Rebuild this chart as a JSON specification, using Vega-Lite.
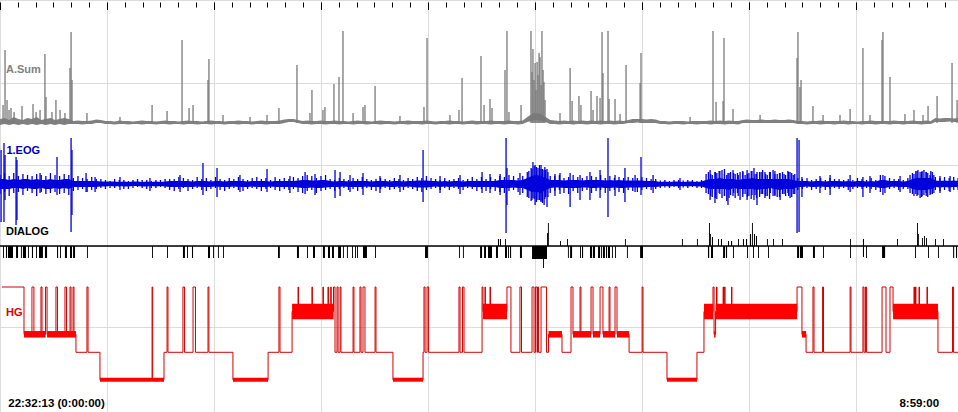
{
"$schema":"https://vega.github.io/schema/vega-lite/v6.json",
"width":958,"height":412,"padding":0,"autosize":{"type":"none"},
"background":"#ffffff",
"config":{"view":{"stroke":null},"axis":{"gridColor":"#dcdcdc","gridWidth":1},"text":{"font":"Liberation Sans","fontWeight":"bold","fontSize":11}},
"datasets":{
"band":[
{"t":0,"al":-2,"ah":4,"el":-10,"eh":9,"cl":-5,"ch":5},{"t":3,"al":-1,"ah":5,"el":-8,"eh":11,"cl":-5,"ch":5},{"t":6,"al":-2,"ah":3,"el":-12,"eh":8,"cl":-5,"ch":4},{"t":9,"al":-1,"ah":6,"el":-9,"eh":11,"cl":-4,"ch":5},{"t":12,"al":-2,"ah":4,"el":-8,"eh":8,"cl":-4,"ch":4},{"t":15,"al":-1,"ah":3,"el":-11,"eh":10,"cl":-5,"ch":5},{"t":18,"al":-2,"ah":5,"el":-7,"eh":9,"cl":-4,"ch":5},{"t":21,"al":-1,"ah":4,"el":-9,"eh":8,"cl":-5,"ch":4},{"t":24,"al":-2,"ah":6,"el":-12,"eh":10,"cl":-5,"ch":5},{"t":27,"al":-1,"ah":3,"el":-8,"eh":9,"cl":-4,"ch":4},{"t":30,"al":-2,"ah":4,"el":-10,"eh":8,"cl":-5,"ch":4},{"t":33,"al":-1,"ah":5,"el":-9,"eh":11,"cl":-5,"ch":5},{"t":36,"al":-2,"ah":3,"el":-8,"eh":9,"cl":-4,"ch":4},{"t":39,"al":-1,"ah":4,"el":-10,"eh":8,"cl":-5,"ch":4},{"t":42,"al":-2,"ah":5,"el":-9,"eh":10,"cl":-4,"ch":5},{"t":45,"al":-1,"ah":4,"el":-11,"eh":9,"cl":-5,"ch":5},
{"t":48,"al":-1,"ah":2,"el":-7,"eh":6,"cl":-3,"ch":3},{"t":51,"al":-1,"ah":2.5,"el":-6,"eh":8,"cl":-3,"ch":3},{"t":54,"al":-1.5,"ah":2,"el":-5,"eh":6,"cl":-3,"ch":3},{"t":57,"al":-1,"ah":2,"el":-8,"eh":5,"cl":-3,"ch":3},{"t":60,"al":-1,"ah":2.5,"el":-6,"eh":7,"cl":-3,"ch":3},{"t":63,"al":0,"ah":3.5,"el":-5,"eh":5,"cl":-3,"ch":3},{"t":66,"al":0,"ah":3,"el":-4,"eh":5,"cl":-2.5,"ch":2.5},{"t":69,"al":-1,"ah":2,"el":-5,"eh":4,"cl":-2.5,"ch":2.5},{"t":72,"al":-1,"ah":2,"el":-4,"eh":3,"cl":-2,"ch":2.5},{"t":75,"al":-1.5,"ah":1.5,"el":-4,"eh":5,"cl":-2.5,"ch":2.5},{"t":78,"al":-1,"ah":2.5,"el":-3,"eh":4,"cl":-2,"ch":2},{"t":81,"al":-1,"ah":2,"el":-5,"eh":4,"cl":-2.5,"ch":2.5},{"t":84,"al":-1.5,"ah":2,"el":-5,"eh":3,"cl":-2.5,"ch":2},{"t":87,"al":-1,"ah":1.5,"el":-4,"eh":4,"cl":-2,"ch":2.5},{"t":90,"al":-1,"ah":2,"el":-3,"eh":5,"cl":-2,"ch":2.5},{"t":93,"al":-1.5,"ah":2.5,"el":-4,"eh":4,"cl":-2.5,"ch":2},{"t":96,"al":-1,"ah":2,"el":-5,"eh":4,"cl":-2.5,"ch":2.5},{"t":99,"al":-1,"ah":2,"el":-4,"eh":3,"cl":-2,"ch":2},{"t":102,"al":-1.5,"ah":1.5,"el":-4,"eh":4,"cl":-2.5,"ch":2.5},{"t":105,"al":-1,"ah":2,"el":-3,"eh":4,"cl":-2,"ch":2},{"t":108,"al":-1,"ah":2.5,"el":-4,"eh":5,"cl":-2.5,"ch":2.5},
{"t":111,"al":-1.5,"ah":2,"el":-6,"eh":5,"cl":-3,"ch":3},{"t":114,"al":-1,"ah":2,"el":-7,"eh":5,"cl":-3,"ch":3},{"t":117,"al":-1,"ah":1.5,"el":-5,"eh":7,"cl":-3,"ch":3},{"t":120,"al":-1.5,"ah":2,"el":-4,"eh":6,"cl":-3,"ch":3},{"t":123,"al":-1,"ah":2.5,"el":-7,"eh":5,"cl":-3,"ch":3},{"t":126,"al":-1,"ah":2,"el":-5,"eh":4,"cl":-3,"ch":2.5},{"t":129,"al":-1.5,"ah":2,"el":-4,"eh":7,"cl":-2.5,"ch":3},{"t":132,"al":-1,"ah":1.5,"el":-6,"eh":5,"cl":-3,"ch":3},{"t":135,"al":-1,"ah":2,"el":-7,"eh":6,"cl":-3,"ch":3},{"t":138,"al":-1.5,"ah":2.5,"el":-5,"eh":4,"cl":-3,"ch":2.5},{"t":141,"al":-1,"ah":2,"el":-4,"eh":7,"cl":-2.5,"ch":3},{"t":144,"al":-1,"ah":2,"el":-6,"eh":5,"cl":-3,"ch":3},{"t":147,"al":-1.5,"ah":1.5,"el":-7,"eh":4,"cl":-3,"ch":2.5},{"t":150,"al":-1,"ah":2,"el":-5,"eh":6,"cl":-3,"ch":3},{"t":153,"al":-1,"ah":2,"el":-4,"eh":5,"cl":-2.5,"ch":3},{"t":156,"al":-1.5,"ah":2.5,"el":-6,"eh":7,"cl":-3,"ch":3},{"t":159,"al":-1,"ah":2,"el":-7,"eh":5,"cl":-3,"ch":3},{"t":162,"al":-1,"ah":2,"el":-5,"eh":4,"cl":-3,"ch":2.5},{"t":165,"al":-1.5,"ah":1.5,"el":-4,"eh":6,"cl":-2.5,"ch":3},{"t":168,"al":-1,"ah":2,"el":-5,"eh":7,"cl":-3,"ch":3},{"t":171,"al":-1,"ah":2.5,"el":-7,"eh":5,"cl":-3,"ch":3},{"t":174,"al":-1.5,"ah":2,"el":-5,"eh":6,"cl":-3,"ch":3},{"t":177,"al":-1,"ah":2,"el":-4,"eh":4,"cl":-2.5,"ch":2.5},{"t":180,"al":-1,"ah":2,"el":-6,"eh":7,"cl":-3,"ch":3},{"t":183,"al":-1,"ah":2.5,"el":-7,"eh":5,"cl":-3,"ch":3},
{"t":186,"al":0,"ah":3.5,"el":-5,"eh":6,"cl":-3,"ch":3},{"t":189,"al":1,"ah":4,"el":-6,"eh":5,"cl":-3,"ch":3},{"t":192,"al":1,"ah":4,"el":-5,"eh":7,"cl":-3,"ch":3},{"t":195,"al":0,"ah":3,"el":-8,"eh":6,"cl":-3.5,"ch":3.5},{"t":198,"al":-1,"ah":2,"el":-9,"eh":8,"cl":-4,"ch":4},{"t":201,"al":-1,"ah":2.5,"el":-7,"eh":9,"cl":-4,"ch":4},{"t":204,"al":-1.5,"ah":2,"el":-6,"eh":8,"cl":-3.5,"ch":3.5},{"t":207,"al":-1,"ah":2,"el":-9,"eh":6,"cl":-4,"ch":3.5},{"t":210,"al":-1,"ah":2.5,"el":-7,"eh":8,"cl":-4,"ch":4},{"t":213,"al":-1.5,"ah":2,"el":-6,"eh":9,"cl":-3.5,"ch":4},{"t":216,"al":-1,"ah":2,"el":-5,"eh":5,"cl":-3,"ch":3},{"t":219,"al":-1,"ah":2.5,"el":-7,"eh":4,"cl":-3,"ch":2.5},{"t":222,"al":-1.5,"ah":2,"el":-5,"eh":6,"cl":-3,"ch":3},{"t":225,"al":-1,"ah":2,"el":-4,"eh":5,"cl":-2.5,"ch":3},{"t":228,"al":-1,"ah":1.5,"el":-6,"eh":4,"cl":-3,"ch":2.5},{"t":231,"al":-1.5,"ah":2,"el":-5,"eh":6,"cl":-3,"ch":3},{"t":234,"al":-1,"ah":2.5,"el":-7,"eh":5,"cl":-3,"ch":3},{"t":237,"al":-1,"ah":2,"el":-5,"eh":7,"cl":-3,"ch":3},{"t":240,"al":-1.5,"ah":2,"el":-4,"eh":5,"cl":-2.5,"ch":3},{"t":243,"al":-1,"ah":1.5,"el":-6,"eh":4,"cl":-3,"ch":2.5},{"t":246,"al":-1,"ah":2,"el":-7,"eh":5,"cl":-3,"ch":3},{"t":249,"al":-1.5,"ah":2.5,"el":-5,"eh":6,"cl":-3,"ch":3},{"t":252,"al":-1,"ah":2,"el":-4,"eh":5,"cl":-2.5,"ch":3},{"t":255,"al":-1,"ah":2,"el":-6,"eh":4,"cl":-3,"ch":2.5},{"t":258,"al":-1.5,"ah":1.5,"el":-5,"eh":6,"cl":-3,"ch":3},{"t":261,"al":-1,"ah":2,"el":-4,"eh":5,"cl":-2.5,"ch":3},{"t":264,"al":-1,"ah":2,"el":-6,"eh":4,"cl":-3,"ch":2.5},{"t":267,"al":-1.5,"ah":2.5,"el":-4,"eh":6,"cl":-2.5,"ch":3},{"t":270,"al":-1,"ah":2,"el":-5,"eh":5,"cl":-3,"ch":3},{"t":273,"al":-1,"ah":2,"el":-7,"eh":7,"cl":-3.5,"ch":3.5},{"t":276,"al":-1.5,"ah":2,"el":-8,"eh":6,"cl":-3.5,"ch":3.5},{"t":279,"al":-1,"ah":2.5,"el":-6,"eh":8,"cl":-3.5,"ch":3.5},
{"t":282,"al":-1,"ah":2,"el":-5,"eh":6,"cl":-3,"ch":3},{"t":285,"al":-1.5,"ah":1.5,"el":-4,"eh":5,"cl":-2.5,"ch":3},{"t":288,"al":-1,"ah":2,"el":-6,"eh":4,"cl":-3,"ch":2.5},{"t":291,"al":-1,"ah":2,"el":-4,"eh":6,"cl":-2.5,"ch":3},{"t":294,"al":-1.5,"ah":2.5,"el":-6,"eh":4,"cl":-3,"ch":2.5},{"t":297,"al":-1,"ah":2,"el":-4,"eh":5,"cl":-2.5,"ch":3},{"t":300,"al":-1,"ah":2,"el":-5,"eh":6,"cl":-3,"ch":3},{"t":303,"al":-1.5,"ah":1.5,"el":-6,"eh":4,"cl":-3,"ch":2.5},{"t":306,"al":-1,"ah":2,"el":-4,"eh":5,"cl":-2.5,"ch":3},{"t":309,"al":-1,"ah":2.5,"el":-5,"eh":7,"cl":-3,"ch":3},{"t":312,"al":-1.5,"ah":2,"el":-7,"eh":5,"cl":-3,"ch":3},{"t":315,"al":-1,"ah":2,"el":-5,"eh":7,"cl":-3,"ch":3},{"t":318,"al":-1,"ah":2,"el":-7,"eh":5,"cl":-3,"ch":3},{"t":321,"al":-1.5,"ah":2.5,"el":-5,"eh":7,"cl":-3,"ch":3},{"t":324,"al":-1,"ah":2,"el":-7,"eh":5,"cl":-3,"ch":3},{"t":327,"al":-1,"ah":2,"el":-8,"eh":8,"cl":-4,"ch":4},{"t":330,"al":-1.5,"ah":2,"el":-9,"eh":7,"cl":-4,"ch":4},{"t":333,"al":-1,"ah":2.5,"el":-7,"eh":9,"cl":-4,"ch":4},{"t":336,"al":-1,"ah":2,"el":-6,"eh":8,"cl":-3.5,"ch":4},{"t":339,"al":-1.5,"ah":2,"el":-8,"eh":6,"cl":-4,"ch":3.5},{"t":342,"al":-1,"ah":2.5,"el":-9,"eh":8,"cl":-4,"ch":4},
{"t":345,"al":1,"ah":6,"el":-13,"eh":12,"cl":-6,"ch":6},{"t":348,"al":2,"ah":9,"el":-16,"eh":15,"cl":-8,"ch":8},{"t":351,"al":3,"ah":10,"el":-15,"eh":17,"cl":-8,"ch":9},{"t":354,"al":2,"ah":9,"el":-17,"eh":15,"cl":-9,"ch":8},{"t":357,"al":1,"ah":6,"el":-13,"eh":14,"cl":-6,"ch":6},
{"t":360,"al":-1,"ah":3,"el":-9,"eh":8,"cl":-4,"ch":4},{"t":363,"al":-1,"ah":2.5,"el":-7,"eh":8,"cl":-3.5,"ch":4},{"t":366,"al":-1.5,"ah":2,"el":-6,"eh":9,"cl":-3.5,"ch":4},{"t":369,"al":-1,"ah":2.5,"el":-9,"eh":6,"cl":-4,"ch":3.5},{"t":372,"al":-1,"ah":2,"el":-10,"eh":7,"cl":-4,"ch":4},{"t":375,"al":-1.5,"ah":2.5,"el":-7,"eh":9,"cl":-4,"ch":4},{"t":378,"al":-1,"ah":2,"el":-9,"eh":7,"cl":-4,"ch":4},{"t":381,"al":-1,"ah":2.5,"el":-7,"eh":6,"cl":-3.5,"ch":3.5},{"t":384,"al":-1.5,"ah":2,"el":-6,"eh":8,"cl":-3.5,"ch":4},{"t":387,"al":-1,"ah":2.5,"el":-9,"eh":8,"cl":-4,"ch":4},{"t":390,"al":-1,"ah":2,"el":-7,"eh":7,"cl":-4,"ch":4},{"t":393,"al":-1.5,"ah":2.5,"el":-6,"eh":9,"cl":-3.5,"ch":4},{"t":396,"al":-1,"ah":2,"el":-9,"eh":6,"cl":-4,"ch":3.5},{"t":399,"al":-1,"ah":2.5,"el":-7,"eh":8,"cl":-4,"ch":4},{"t":402,"al":-1.5,"ah":2,"el":-6,"eh":6,"cl":-3.5,"ch":3.5},{"t":405,"al":-1,"ah":2.5,"el":-8,"eh":7,"cl":-4,"ch":4},{"t":408,"al":-1,"ah":2,"el":-9,"eh":6,"cl":-4,"ch":3.5},
{"t":411,"al":0,"ah":3,"el":-6,"eh":7,"cl":-3.5,"ch":3.5},{"t":414,"al":0,"ah":4,"el":-7,"eh":6,"cl":-3.5,"ch":3.5},{"t":417,"al":0.5,"ah":4,"el":-8,"eh":6,"cl":-3.5,"ch":3.5},{"t":420,"al":0,"ah":4,"el":-6,"eh":7,"cl":-3.5,"ch":3.5},{"t":423,"al":0,"ah":3.5,"el":-5,"eh":6,"cl":-3,"ch":3},{"t":426,"al":0,"ah":4,"el":-6,"eh":5,"cl":-3,"ch":3},{"t":429,"al":0,"ah":3.5,"el":-5,"eh":5,"cl":-3,"ch":3},
{"t":432,"al":-1,"ah":2,"el":-4,"eh":3.5,"cl":-2.5,"ch":2},{"t":435,"al":-1,"ah":2,"el":-3.5,"eh":4,"cl":-2,"ch":2.5},{"t":438,"al":-1.5,"ah":1.5,"el":-4,"eh":3,"cl":-2.5,"ch":2},{"t":441,"al":-1,"ah":2,"el":-3,"eh":4,"cl":-2,"ch":2.5},{"t":444,"al":-1,"ah":2,"el":-4,"eh":4,"cl":-2.5,"ch":2.5},{"t":447,"al":-1.5,"ah":2,"el":-3.5,"eh":3.5,"cl":-2,"ch":2},{"t":450,"al":-1,"ah":1.5,"el":-4,"eh":4,"cl":-2.5,"ch":2.5},{"t":453,"al":-1,"ah":2,"el":-3,"eh":4,"cl":-2,"ch":2.5},{"t":456,"al":-1.5,"ah":2,"el":-4,"eh":3,"cl":-2.5,"ch":2},{"t":459,"al":-1,"ah":2,"el":-4,"eh":4,"cl":-2.5,"ch":2.5},
{"t":462,"al":-1,"ah":2,"el":-9,"eh":10,"cl":-4,"ch":4},{"t":465,"al":-1.5,"ah":2.5,"el":-12,"eh":10,"cl":-5,"ch":5},{"t":468,"al":-1,"ah":2,"el":-14,"eh":12,"cl":-5,"ch":5},{"t":471,"al":-1,"ah":2.5,"el":-10,"eh":13,"cl":-5,"ch":6},{"t":474,"al":-1.5,"ah":2,"el":-12,"eh":10,"cl":-5,"ch":5},{"t":477,"al":-1,"ah":2.5,"el":-14,"eh":11,"cl":-6,"ch":5},{"t":480,"al":-1,"ah":2,"el":-9,"eh":11,"cl":-4,"ch":5},{"t":483,"al":-1.5,"ah":2,"el":-12,"eh":9,"cl":-5,"ch":4},{"t":486,"al":0,"ah":3,"el":-10,"eh":12,"cl":-5,"ch":5},{"t":489,"al":0,"ah":3.5,"el":-13,"eh":10,"cl":-5,"ch":5},{"t":492,"al":0,"ah":3,"el":-11,"eh":13,"cl":-5,"ch":6},{"t":495,"al":0,"ah":3,"el":-14,"eh":10,"cl":-6,"ch":5},{"t":498,"al":0,"ah":3.5,"el":-10,"eh":12,"cl":-5,"ch":5},{"t":501,"al":0,"ah":3,"el":-12,"eh":10,"cl":-5,"ch":5},{"t":504,"al":0,"ah":3,"el":-9,"eh":12,"cl":-4,"ch":5},{"t":507,"al":0,"ah":3.5,"el":-12,"eh":10,"cl":-5,"ch":5},{"t":510,"al":0,"ah":3,"el":-13,"eh":11,"cl":-6,"ch":5},{"t":513,"al":0,"ah":3,"el":-10,"eh":10,"cl":-5,"ch":5},{"t":516,"al":0,"ah":3.5,"el":-12,"eh":12,"cl":-5,"ch":5},{"t":519,"al":0,"ah":3,"el":-10,"eh":9,"cl":-5,"ch":4},
{"t":522,"al":-1,"ah":2,"el":-6,"eh":6,"cl":-3,"ch":3},{"t":525,"al":-1,"ah":2,"el":-5,"eh":5,"cl":-3,"ch":3},{"t":528,"al":-1.5,"ah":1.5,"el":-4,"eh":6,"cl":-2.5,"ch":3},{"t":531,"al":-1,"ah":2,"el":-6,"eh":4,"cl":-3,"ch":2.5},{"t":534,"al":-1,"ah":2,"el":-5,"eh":5,"cl":-3,"ch":3},{"t":537,"al":-1.5,"ah":2.5,"el":-4,"eh":6,"cl":-2.5,"ch":3},{"t":540,"al":-1,"ah":2,"el":-6,"eh":4,"cl":-3,"ch":2.5},{"t":543,"al":-1,"ah":2,"el":-5,"eh":6,"cl":-3,"ch":3},{"t":546,"al":-1.5,"ah":2,"el":-4,"eh":5,"cl":-2.5,"ch":3},{"t":549,"al":-1,"ah":2,"el":-5,"eh":5,"cl":-3,"ch":3},{"t":552,"al":-1,"ah":2.5,"el":-4,"eh":4,"cl":-2.5,"ch":2.5},{"t":555,"al":-1.5,"ah":2,"el":-6,"eh":5,"cl":-3,"ch":3},{"t":558,"al":-1,"ah":2,"el":-5,"eh":4,"cl":-3,"ch":2.5},{"t":561,"al":-1,"ah":1.5,"el":-4,"eh":6,"cl":-2.5,"ch":3},{"t":564,"al":-1.5,"ah":2,"el":-5,"eh":5,"cl":-3,"ch":3},{"t":567,"al":-1,"ah":2,"el":-4,"eh":4,"cl":-2.5,"ch":2.5},{"t":570,"al":-1,"ah":2.5,"el":-5,"eh":6,"cl":-3,"ch":3},{"t":573,"al":-1.5,"ah":2,"el":-6,"eh":4,"cl":-3,"ch":2.5},{"t":576,"al":-1,"ah":2,"el":-8,"eh":9,"cl":-4,"ch":4},{"t":579,"al":-1,"ah":2,"el":-9,"eh":8,"cl":-4,"ch":4},{"t":582,"al":-1.5,"ah":2,"el":-5,"eh":6,"cl":-3,"ch":3},{"t":585,"al":-1,"ah":2.5,"el":-4,"eh":5,"cl":-2.5,"ch":3},{"t":588,"al":-1,"ah":2,"el":-6,"eh":5,"cl":-3,"ch":3},{"t":591,"al":-1.5,"ah":2,"el":-5,"eh":4,"cl":-3,"ch":2.5},{"t":594,"al":-1,"ah":2,"el":-5,"eh":6,"cl":-3,"ch":3},{"t":597,"al":-1,"ah":2.5,"el":-10,"eh":11,"cl":-5,"ch":5},{"t":600,"al":-1,"ah":2,"el":-12,"eh":13,"cl":-6,"ch":6},{"t":603,"al":-1.5,"ah":2,"el":-13,"eh":12,"cl":-6,"ch":6},{"t":606,"al":-1,"ah":2.5,"el":-12,"eh":12,"cl":-6,"ch":6},{"t":609,"al":-1,"ah":2,"el":-10,"eh":13,"cl":-5,"ch":6},
{"t":612,"al":1,"ah":5,"el":-6,"eh":7,"cl":-3,"ch":3.5},{"t":615,"al":1,"ah":4.5,"el":-7,"eh":6,"cl":-3.5,"ch":3},{"t":618,"al":1,"ah":5,"el":-6,"eh":7,"cl":-3,"ch":3.5},{"t":621,"al":1.5,"ah":5,"el":-7,"eh":6,"cl":-3.5,"ch":3},{"t":624,"al":1,"ah":4.5,"el":-6,"eh":7,"cl":-3,"ch":3.5},{"t":626.8,"al":1,"ah":5,"el":-6,"eh":6,"cl":-3,"ch":3}
],
"asp":[
{"t":2.0,"v":18},{"t":3.3,"v":73},{"t":4.6,"v":23},{"t":5.9,"v":13},{"t":7.2,"v":15},{"t":9.2,"v":11},{"t":14.4,"v":17},{"t":21.6,"v":19},{"t":23.6,"v":11},{"t":26.2,"v":13},{"t":29.4,"v":69},{"t":30.1,"v":26},{"t":34.0,"v":11},{"t":36.6,"v":23},{"t":39.3,"v":13},{"t":42.5,"v":10},{"t":45.8,"v":55},{"t":46.5,"v":91},{"t":47.1,"v":43},{"t":56.9,"v":10},{"t":78.5,"v":6},{"t":99.5,"v":18},{"t":109.3,"v":12},{"t":119.1,"v":83},{"t":123.7,"v":15},{"t":126.3,"v":18},{"t":136.1,"v":43},{"t":136.7,"v":64},{"t":145.9,"v":8},{"t":163.6,"v":6},{"t":174.7,"v":8},{"t":182.5,"v":15},{"t":194.3,"v":58},{"t":202.8,"v":10},{"t":204.1,"v":33},{"t":211.3,"v":13},{"t":212.6,"v":16},{"t":218.5,"v":39},{"t":221.8,"v":46},{"t":224.4,"v":92},{"t":231.0,"v":10},{"t":237.5,"v":16},{"t":238.8,"v":18},{"t":245.4,"v":37},{"t":261.7,"v":7},{"t":277.4,"v":16},{"t":279.4,"v":85},{"t":294.4,"v":8},{"t":300.3,"v":13},{"t":302.3,"v":45},{"t":314.7,"v":67},{"t":316.7,"v":18},{"t":320.6,"v":24},{"t":321.9,"v":15},{"t":330.4,"v":53},{"t":331.7,"v":92},{"t":333.0,"v":11},{"t":340.9,"v":18},{"t":347.4,"v":92},{"t":348.1,"v":51},{"t":348.7,"v":74},{"t":349.4,"v":43},{"t":350.1,"v":60},{"t":350.7,"v":33},{"t":351.4,"v":61},{"t":352.0,"v":48},{"t":352.7,"v":70},{"t":353.3,"v":66},{"t":354.0,"v":38},{"t":354.6,"v":92},{"t":355.3,"v":53},{"t":355.9,"v":41},{"t":356.6,"v":23},{"t":366.4,"v":10},{"t":373.0,"v":55},{"t":374.3,"v":22},{"t":378.8,"v":27},{"t":380.1,"v":18},{"t":386.7,"v":32},{"t":388.0,"v":13},{"t":390.6,"v":27},{"t":392.6,"v":25},{"t":393.9,"v":91},{"t":394.5,"v":50},{"t":397.8,"v":92},{"t":398.5,"v":24},{"t":402.4,"v":24},{"t":405.7,"v":9},{"t":409.6,"v":58},{"t":418.8,"v":40},{"t":419.4,"v":70},{"t":451.5,"v":6},{"t":466.5,"v":92},{"t":468.5,"v":21},{"t":473.1,"v":22},{"t":473.7,"v":85},{"t":479.6,"v":14},{"t":497.3,"v":8},{"t":521.5,"v":65},{"t":522.1,"v":91},{"t":523.4,"v":36},{"t":524.1,"v":43},{"t":531.9,"v":17},{"t":538.5,"v":8},{"t":549.6,"v":8},{"t":556.2,"v":14},{"t":564.6,"v":75},{"t":569.2,"v":8},{"t":577.1,"v":83},{"t":577.7,"v":91},{"t":582.3,"v":46},{"t":592.1,"v":9},{"t":598.0,"v":13},{"t":603.9,"v":8},{"t":607.2,"v":17},{"t":613.1,"v":27},{"t":622.9,"v":60},{"t":626.2,"v":23}
],
"esp":[
{"t":0.7,"lo":-38,"hi":34},{"t":2.6,"lo":-38,"hi":41},{"t":3.3,"lo":-16,"hi":29},{"t":10.5,"lo":-41,"hi":27},{"t":11.1,"lo":-36,"hi":24},{"t":26.2,"lo":-9,"hi":11},{"t":37.3,"lo":-11,"hi":27},{"t":46.5,"lo":-48,"hi":46},{"t":47.1,"lo":-31,"hi":34},{"t":56.3,"lo":-8,"hi":11},{"t":62.2,"lo":-8,"hi":7},{"t":78.5,"lo":-6,"hi":7},{"t":98.1,"lo":-7,"hi":6},{"t":117.8,"lo":-8,"hi":9},{"t":132.8,"lo":-11,"hi":21},{"t":142.0,"lo":-13,"hi":16},{"t":157.0,"lo":-8,"hi":9},{"t":174.7,"lo":-8,"hi":15},{"t":189.7,"lo":-9,"hi":8},{"t":199.6,"lo":-10,"hi":12},{"t":206.1,"lo":-11,"hi":10},{"t":219.2,"lo":-14,"hi":14},{"t":222.5,"lo":-12,"hi":12},{"t":229.0,"lo":-8,"hi":9},{"t":237.5,"lo":-11,"hi":11},{"t":248.6,"lo":-9,"hi":8},{"t":261.7,"lo":-8,"hi":9},{"t":276.8,"lo":-18,"hi":34},{"t":287.9,"lo":-9,"hi":8},{"t":301.0,"lo":-10,"hi":9},{"t":315.4,"lo":-9,"hi":12},{"t":320.6,"lo":-9,"hi":10},{"t":327.2,"lo":-11,"hi":10},{"t":331.1,"lo":-49,"hi":46},{"t":331.7,"lo":-21,"hi":16},{"t":340.2,"lo":-11,"hi":11},
{"t":346.0,"lo":-14,"hi":13},{"t":347.5,"lo":-17,"hi":16},{"t":348.7,"lo":-14,"hi":22},{"t":349.5,"lo":-15,"hi":18},{"t":350.1,"lo":-21,"hi":19},{"t":351.0,"lo":-18,"hi":16},{"t":352.0,"lo":-16,"hi":16},{"t":353.0,"lo":-16,"hi":19},{"t":354.0,"lo":-18,"hi":19},{"t":355.0,"lo":-19,"hi":15},{"t":356.0,"lo":-21,"hi":14},{"t":356.5,"lo":-15,"hi":17},{"t":357.9,"lo":-23,"hi":15},{"t":358.5,"lo":-13,"hi":12},
{"t":363.1,"lo":-12,"hi":10},{"t":366.4,"lo":-10,"hi":11},{"t":373.0,"lo":-23,"hi":11},{"t":379.5,"lo":-16,"hi":9},{"t":386.0,"lo":-16,"hi":12},{"t":392.6,"lo":-14,"hi":14},{"t":397.8,"lo":-33,"hi":46},{"t":402.4,"lo":-12,"hi":9},{"t":408.9,"lo":-18,"hi":16},{"t":415.5,"lo":-8,"hi":9},{"t":419.4,"lo":-11,"hi":27},{"t":427.3,"lo":-9,"hi":9},{"t":444.9,"lo":-6,"hi":6},
{"t":463.5,"lo":-10,"hi":12},{"t":464.6,"lo":-16,"hi":14},{"t":466.0,"lo":-13,"hi":9},{"t":467.8,"lo":-19,"hi":12},{"t":469.0,"lo":-15,"hi":11},{"t":470.5,"lo":-9,"hi":13},{"t":472.4,"lo":-14,"hi":14},{"t":474.0,"lo":-12,"hi":15},{"t":475.5,"lo":-17,"hi":9},{"t":476.3,"lo":-21,"hi":11},{"t":478.0,"lo":-11,"hi":12},{"t":479.6,"lo":-12,"hi":14},{"t":481.0,"lo":-14,"hi":10},{"t":482.5,"lo":-9,"hi":11},{"t":484.2,"lo":-16,"hi":12},{"t":486.0,"lo":-13,"hi":13},{"t":487.5,"lo":-10,"hi":9},{"t":488.8,"lo":-16,"hi":14},{"t":490.0,"lo":-12,"hi":11},{"t":491.5,"lo":-15,"hi":13},{"t":493.3,"lo":-16,"hi":16},{"t":494.0,"lo":-11,"hi":10},{"t":495.3,"lo":-21,"hi":12},{"t":497.0,"lo":-13,"hi":12},{"t":499.0,"lo":-10,"hi":14},{"t":500.5,"lo":-14,"hi":12},{"t":502.0,"lo":-12,"hi":9},{"t":503.5,"lo":-15,"hi":12},{"t":505.8,"lo":-12,"hi":14},{"t":507.0,"lo":-11,"hi":13},{"t":508.5,"lo":-13,"hi":10},{"t":510.4,"lo":-16,"hi":11},{"t":512.0,"lo":-10,"hi":12},{"t":514.0,"lo":-12,"hi":9},{"t":515.5,"lo":-9,"hi":13},{"t":516.9,"lo":-14,"hi":12},{"t":518.0,"lo":-13,"hi":11},{"t":520.0,"lo":-10,"hi":10},
{"t":521.5,"lo":-49,"hi":46},{"t":522.8,"lo":-48,"hi":44},{"t":524.7,"lo":-13,"hi":7},{"t":536.5,"lo":-9,"hi":8},{"t":543.1,"lo":-11,"hi":9},{"t":556.2,"lo":-8,"hi":9},{"t":564.6,"lo":-13,"hi":7},{"t":569.2,"lo":-9,"hi":8},{"t":577.7,"lo":-11,"hi":9},{"t":588.9,"lo":-8,"hi":8},{"t":595.4,"lo":-9,"hi":9},
{"t":598.0,"lo":-12,"hi":10},{"t":599.2,"lo":-10,"hi":13},{"t":600.6,"lo":-11,"hi":14},{"t":602.0,"lo":-14,"hi":12},{"t":603.3,"lo":-12,"hi":13},{"t":604.5,"lo":-11,"hi":14},{"t":605.9,"lo":-9,"hi":12},{"t":607.0,"lo":-13,"hi":11},{"t":608.5,"lo":-11,"hi":9},{"t":610.0,"lo":-10,"hi":12},{"t":611.0,"lo":-9,"hi":9},{"t":615.0,"lo":-9,"hi":8},{"t":621.6,"lo":-8,"hi":8}
],
"dlg":[
{"t":2.0,"t2":2.6,"lo":-12,"hi":0},{"t":3.9,"t2":4.6,"lo":-12,"hi":0},{"t":5.2,"t2":8.5,"lo":-12,"hi":0},{"t":10.5,"t2":11.8,"lo":-12,"hi":0},{"t":13.7,"t2":14.3,"lo":-12,"hi":0},{"t":15.0,"t2":17.0,"lo":-12,"hi":0},{"t":18.3,"t2":18.9,"lo":-12,"hi":0},{"t":20.9,"t2":21.6,"lo":-12,"hi":0},{"t":23.6,"t2":24.2,"lo":-12,"hi":0},{"t":25.5,"t2":28.1,"lo":-12,"hi":0},{"t":29.4,"t2":30.8,"lo":-12,"hi":0},{"t":37.3,"t2":38.0,"lo":-12,"hi":0},{"t":39.3,"t2":39.9,"lo":-12,"hi":0},{"t":42.5,"t2":43.8,"lo":-12,"hi":0},{"t":45.8,"t2":47.1,"lo":-12,"hi":0},{"t":47.8,"t2":49.1,"lo":-12,"hi":0},{"t":56.9,"t2":57.5,"lo":-12,"hi":0},{"t":99.5,"t2":100.1,"lo":-12,"hi":0},{"t":109.3,"t2":109.9,"lo":-12,"hi":0},{"t":119.7,"t2":121.0,"lo":-12,"hi":0},{"t":122.4,"t2":123.0,"lo":-12,"hi":0},{"t":125.6,"t2":126.3,"lo":-12,"hi":0},{"t":136.1,"t2":137.4,"lo":-12,"hi":0},{"t":139.4,"t2":140.0,"lo":-12,"hi":0},{"t":142.6,"t2":143.2,"lo":-12,"hi":0},{"t":145.9,"t2":146.5,"lo":-12,"hi":0},{"t":181.9,"t2":183.1,"lo":-12,"hi":0},{"t":194.3,"t2":195.6,"lo":-12,"hi":0},{"t":200.9,"t2":201.5,"lo":-12,"hi":0},{"t":204.8,"t2":206.1,"lo":-12,"hi":0},{"t":211.3,"t2":212.6,"lo":-12,"hi":0},{"t":214.6,"t2":215.9,"lo":-12,"hi":0},{"t":217.2,"t2":218.5,"lo":-12,"hi":0},{"t":221.2,"t2":223.1,"lo":-12,"hi":0},{"t":224.4,"t2":225.0,"lo":-12,"hi":0},{"t":227.0,"t2":227.6,"lo":-12,"hi":0},{"t":230.3,"t2":230.9,"lo":-12,"hi":0},{"t":232.3,"t2":232.9,"lo":-12,"hi":0},{"t":233.6,"t2":234.2,"lo":-12,"hi":0},{"t":237.5,"t2":240.1,"lo":-12,"hi":0},{"t":245.4,"t2":246.0,"lo":-12,"hi":0},{"t":278.1,"t2":280.0,"lo":-12,"hi":0},{"t":300.3,"t2":300.9,"lo":-12,"hi":0},{"t":302.9,"t2":303.5,"lo":-12,"hi":0},{"t":314.1,"t2":315.4,"lo":-12,"hi":0},{"t":316.7,"t2":318.0,"lo":-12,"hi":0},{"t":319.3,"t2":321.9,"lo":-12,"hi":0},{"t":324.5,"t2":325.8,"lo":-12,"hi":0},{"t":330.4,"t2":331.7,"lo":-12,"hi":0},{"t":332.4,"t2":333.0,"lo":-12,"hi":0},{"t":333.7,"t2":334.4,"lo":-12,"hi":0},{"t":340.2,"t2":341.5,"lo":-12,"hi":0},{"t":348.1,"t2":357.9,"lo":-13,"hi":0},{"t":355.3,"t2":355.9,"lo":-22,"hi":0},{"t":371.6,"t2":372.2,"lo":-12,"hi":0},{"t":373.0,"t2":374.3,"lo":-12,"hi":0},{"t":379.5,"t2":380.1,"lo":-12,"hi":0},{"t":380.8,"t2":381.5,"lo":-12,"hi":0},{"t":386.0,"t2":387.4,"lo":-12,"hi":0},{"t":388.0,"t2":389.3,"lo":-12,"hi":0},{"t":391.3,"t2":392.6,"lo":-12,"hi":0},{"t":393.3,"t2":393.9,"lo":-12,"hi":0},{"t":394.5,"t2":395.8,"lo":-12,"hi":0},{"t":396.5,"t2":397.2,"lo":-12,"hi":0},{"t":397.8,"t2":399.1,"lo":-12,"hi":0},{"t":400.4,"t2":401.0,"lo":-12,"hi":0},{"t":402.4,"t2":403.0,"lo":-12,"hi":0},{"t":410.2,"t2":410.8,"lo":-12,"hi":0},{"t":418.8,"t2":420.7,"lo":-12,"hi":0},{"t":463.2,"t2":464.0,"lo":-12,"hi":0},{"t":465.2,"t2":466.5,"lo":-12,"hi":0},{"t":473.1,"t2":474.4,"lo":-12,"hi":0},{"t":475.0,"t2":475.7,"lo":-12,"hi":0},{"t":479.6,"t2":480.2,"lo":-12,"hi":0},{"t":488.8,"t2":489.4,"lo":-12,"hi":0},{"t":492.7,"t2":493.3,"lo":-12,"hi":0},{"t":496.0,"t2":496.6,"lo":-12,"hi":0},{"t":502.5,"t2":503.1,"lo":-12,"hi":0},{"t":521.5,"t2":522.8,"lo":-12,"hi":0},{"t":523.4,"t2":525.4,"lo":-12,"hi":0},{"t":531.9,"t2":533.2,"lo":-12,"hi":0},{"t":538.5,"t2":539.1,"lo":-12,"hi":0},{"t":556.2,"t2":556.8,"lo":-12,"hi":7},{"t":564.6,"t2":565.3,"lo":-11,"hi":7},{"t":566.6,"t2":567.2,"lo":-12,"hi":0},{"t":577.1,"t2":579.1,"lo":-12,"hi":0},{"t":598.7,"t2":599.3,"lo":-12,"hi":0},{"t":607.2,"t2":607.8,"lo":-12,"hi":0},{"t":613.7,"t2":614.3,"lo":-12,"hi":0},{"t":623.6,"t2":624.3,"lo":-12,"hi":0},{"t":625.5,"t2":626.2,"lo":-12,"hi":0},
{"t":325.8,"t2":326.5,"lo":0,"hi":7},{"t":327.1,"t2":327.8,"lo":0,"hi":7},{"t":330.4,"t2":331.0,"lo":0,"hi":7},{"t":357.9,"t2":358.5,"lo":0,"hi":13},{"t":358.5,"t2":359.1,"lo":0,"hi":23},{"t":366.4,"t2":367.0,"lo":0,"hi":5},{"t":371.0,"t2":371.6,"lo":0,"hi":7},{"t":408.9,"t2":409.5,"lo":0,"hi":7},{"t":446.2,"t2":446.8,"lo":0,"hi":7},{"t":456.0,"t2":456.6,"lo":0,"hi":7},{"t":463.9,"t2":464.5,"lo":0,"hi":23},{"t":464.5,"t2":465.1,"lo":0,"hi":12},{"t":465.8,"t2":466.5,"lo":0,"hi":9},{"t":469.8,"t2":470.4,"lo":0,"hi":7},{"t":471.7,"t2":472.4,"lo":0,"hi":7},{"t":476.3,"t2":477.0,"lo":0,"hi":5},{"t":478.3,"t2":479.0,"lo":0,"hi":5},{"t":482.9,"t2":483.5,"lo":0,"hi":7},{"t":486.1,"t2":486.8,"lo":0,"hi":7},{"t":488.1,"t2":488.8,"lo":0,"hi":7},{"t":490.7,"t2":491.4,"lo":0,"hi":12},{"t":492.0,"t2":492.6,"lo":0,"hi":23},{"t":493.3,"t2":494.0,"lo":0,"hi":12},{"t":494.6,"t2":495.3,"lo":0,"hi":10},{"t":501.8,"t2":502.4,"lo":0,"hi":7},{"t":505.8,"t2":506.4,"lo":0,"hi":7},{"t":511.7,"t2":512.3,"lo":0,"hi":7},{"t":586.9,"t2":587.5,"lo":0,"hi":7},{"t":600.0,"t2":600.6,"lo":0,"hi":23},{"t":600.6,"t2":601.2,"lo":0,"hi":12},{"t":603.3,"t2":603.9,"lo":0,"hi":8},{"t":604.6,"t2":605.2,"lo":0,"hi":10},{"t":605.9,"t2":606.5,"lo":0,"hi":8},{"t":611.8,"t2":612.4,"lo":0,"hi":7},{"t":617.0,"t2":617.6,"lo":0,"hi":7}
],
"hg":[
{"t":1.3,"s":0},{"t":15.7,"s":2},{"t":20.9,"s":0},{"t":22.2,"s":2},{"t":26.8,"s":0},{"t":27.5,"s":2},{"t":29.8,"s":0},{"t":30.8,"s":2},{"t":36.6,"s":0},{"t":37.6,"s":2},{"t":42.5,"s":0},{"t":43.5,"s":2},{"t":45.8,"s":0},{"t":46.5,"s":2},{"t":47.8,"s":0},{"t":48.4,"s":2},{"t":49.7,"s":3},{"t":56.9,"s":0},{"t":57.6,"s":3},{"t":65.4,"s":4},{"t":99.5,"s":0},{"t":99.9,"s":4},{"t":107.3,"s":3},{"t":109.3,"s":0},{"t":109.9,"s":3},{"t":119.7,"s":0},{"t":120.7,"s":3},{"t":126.3,"s":0},{"t":127.9,"s":3},{"t":136.1,"s":0},{"t":136.7,"s":3},{"t":152.4,"s":4},{"t":175.4,"s":3},{"t":182.5,"s":0},{"t":183.2,"s":3},{"t":191.1,"s":1},{"t":195.0,"s":0},{"t":195.3,"s":1},{"t":204.1,"s":0},{"t":204.4,"s":1},{"t":211.3,"s":0},{"t":211.6,"s":1},{"t":214.6,"s":0},{"t":214.9,"s":1},{"t":216.4,"s":0},{"t":216.7,"s":1},{"t":218.2,"s":0},{"t":219.2,"s":3},{"t":220.5,"s":0},{"t":221.2,"s":3},{"t":222.5,"s":0},{"t":223.1,"s":3},{"t":231.0,"s":0},{"t":231.6,"s":3},{"t":235.5,"s":0},{"t":236.2,"s":3},{"t":237.5,"s":0},{"t":238.8,"s":3},{"t":245.4,"s":0},{"t":246.0,"s":3},{"t":257.1,"s":4},{"t":276.8,"s":3},{"t":277.4,"s":0},{"t":278.1,"s":3},{"t":279.4,"s":0},{"t":280.4,"s":3},{"t":300.3,"s":0},{"t":301.0,"s":3},{"t":302.6,"s":0},{"t":303.6,"s":3},{"t":315.4,"s":0},{"t":316.0,"s":1},{"t":317.3,"s":0},{"t":317.6,"s":1},{"t":320.6,"s":0},{"t":320.9,"s":1},{"t":331.7,"s":0},{"t":334.3,"s":3},{"t":340.2,"s":0},{"t":341.2,"s":3},{"t":348.1,"s":0},{"t":349.4,"s":3},{"t":350.4,"s":0},{"t":351.4,"s":3},{"t":351.7,"s":0},{"t":352.3,"s":3},{"t":354.0,"s":0},{"t":357.6,"s":3},{"t":358.9,"s":2},{"t":367.7,"s":3},{"t":373.6,"s":0},{"t":374.9,"s":2},{"t":379.5,"s":0},{"t":380.1,"s":2},{"t":386.7,"s":0},{"t":388.0,"s":2},{"t":392.6,"s":0},{"t":394.5,"s":2},{"t":398.5,"s":0},{"t":399.1,"s":2},{"t":402.4,"s":0},{"t":403.7,"s":2},{"t":411.6,"s":3},{"t":420.1,"s":0},{"t":420.7,"s":3},{"t":436.4,"s":4},{"t":456.0,"s":3},{"t":460.6,"s":1},{"t":466.5,"s":0},{"t":467.2,"s":2},{"t":468.2,"s":1},{"t":468.8,"s":0},{"t":469.1,"s":1},{"t":473.1,"s":0},{"t":473.4,"s":1},{"t":474.1,"s":0},{"t":474.4,"s":1},{"t":478.6,"s":0},{"t":478.9,"s":1},{"t":521.5,"s":0},{"t":524.7,"s":2},{"t":527.4,"s":3},{"t":531.9,"s":0},{"t":532.6,"s":3},{"t":538.2,"s":0},{"t":538.8,"s":3},{"t":556.2,"s":0},{"t":556.8,"s":3},{"t":564.6,"s":0},{"t":565.3,"s":3},{"t":566.3,"s":0},{"t":566.9,"s":3},{"t":577.1,"s":0},{"t":579.7,"s":3},{"t":582.3,"s":0},{"t":584.3,"s":1},{"t":598.0,"s":0},{"t":598.3,"s":1},{"t":599.0,"s":0},{"t":599.3,"s":1},{"t":601.3,"s":0},{"t":601.6,"s":1},{"t":606.5,"s":0},{"t":606.8,"s":1},{"t":613.7,"s":3},{"t":623.2,"s":0},{"t":623.9,"s":3},{"t":626.8,"s":3}
],
"hgb":[
{"t":15.7,"t2":29.8,"s":2},{"t":30.8,"t2":49.7,"s":2},{"t":358.9,"t2":367.7,"s":2},{"t":374.9,"t2":386.7,"s":2},{"t":388.0,"t2":392.6,"s":2},{"t":394.5,"t2":402.4,"s":2},{"t":403.7,"t2":411.6,"s":2},{"t":467.2,"t2":468.2,"s":2},{"t":524.7,"t2":527.4,"s":2},
{"t":191.1,"t2":218.2,"s":1},{"t":316.0,"t2":331.7,"s":1},{"t":460.6,"t2":466.5,"s":1},{"t":468.2,"t2":521.5,"s":1},{"t":584.3,"t2":613.7,"s":1},
{"t":65.4,"t2":107.3,"s":4},{"t":152.4,"t2":175.4,"s":4},{"t":257.1,"t2":276.8,"s":4},{"t":436.4,"t2":456.0,"s":4}
]
},
"layer":[
{"layer":[
 {"data":{"name":"band"},"mark":{"type":"area","color":"#808080"},
  "encoding":{
   "x":{"field":"t","type":"quantitative","scale":{"domain":[0,626.8],"nice":false,"zero":false},
    "axis":{"orient":"top","title":null,"labels":false,"domain":false,"offset":-2,"tickCount":200,
     "values":[0,11.6667,23.3333,35,46.6667,58.3333,70,81.6667,93.3333,105,116.6667,128.3333,140,151.6667,163.3333,175,186.6667,198.3333,210,221.6667,233.3333,245,256.6667,268.3333,280,291.6667,303.3333,315,326.6667,338.3333,350,361.6667,373.3333,385,396.6667,408.3333,420,431.6667,443.3333,455,466.6667,478.3333,490,501.6667,513.3333,525,536.6667,548.3333,560,571.6667,583.3333,595,606.6667,618.3333],
     "tickColor":"#000000","tickWidth":1,
     "tickSize":{"condition":{"test":"abs(datum.value/70-round(datum.value/70))<0.001","value":-7.5},"value":-5},
     "grid":true,"gridColor":"#dcdcdc",
     "gridOpacity":{"condition":{"test":"abs(datum.value/70-round(datum.value/70))<0.001","value":1},"value":0}}},
   "y":{"field":"al","type":"quantitative","scale":{"domain":[-289,123],"nice":false,"zero":false},
    "axis":{"title":null,"labels":false,"ticks":false,"domain":false,"grid":true,"gridColor":"#dcdcdc","values":[123,40,-41.5,-122.5,-204]}},
   "y2":{"field":"ah"}}},
 {"data":{"name":"asp"},"mark":{"type":"rule","color":"#7a7a7a","strokeWidth":1.3},
  "encoding":{
   "x":{"field":"t","type":"quantitative","scale":{"domain":[0,626.8],"nice":false,"zero":false}},
   "y":{"field":"v","type":"quantitative","scale":{"domain":[-289,123],"nice":false,"zero":false}},
   "y2":{"datum":0}}},
 {"data":{"values":[{"label":"A.Sum"}]},"mark":{"type":"text","align":"left","baseline":"alphabetic","color":"#808080"},
  "encoding":{
   "x":{"datum":3.9,"type":"quantitative","scale":{"domain":[0,626.8],"nice":false,"zero":false}},
   "y":{"datum":50,"type":"quantitative","scale":{"domain":[-289,123],"nice":false,"zero":false}},
   "text":{"field":"label"}}}
]},
{"layer":[
 {"data":{"name":"band"},"mark":{"type":"area","color":"#0000dc"},
  "encoding":{
   "x":{"field":"t","type":"quantitative","scale":{"domain":[0,626.8],"nice":false,"zero":false}},
   "y":{"field":"cl","type":"quantitative","scale":{"domain":[-228,184],"nice":false,"zero":false},"axis":null},
   "y2":{"field":"ch"}}},
 {"data":{"name":"band"},"mark":{"type":"rule","color":"#0000dc","strokeWidth":1.3},
  "encoding":{
   "x":{"field":"t","type":"quantitative","scale":{"domain":[0,626.8],"nice":false,"zero":false}},
   "y":{"field":"el","type":"quantitative","scale":{"domain":[-228,184],"nice":false,"zero":false},"axis":null},
   "y2":{"field":"eh"}}},
 {"data":{"name":"esp"},"mark":{"type":"rule","color":"#0000dc","strokeWidth":1.3},
  "encoding":{
   "x":{"field":"t","type":"quantitative","scale":{"domain":[0,626.8],"nice":false,"zero":false}},
   "y":{"field":"lo","type":"quantitative","scale":{"domain":[-228,184],"nice":false,"zero":false},"axis":null},
   "y2":{"field":"hi"}}},
 {"data":{"values":[{"label":"1.EOG"}]},"mark":{"type":"text","align":"left","baseline":"alphabetic","color":"#0000b4"},
  "encoding":{
   "x":{"datum":4.2,"type":"quantitative","scale":{"domain":[0,626.8],"nice":false,"zero":false}},
   "y":{"datum":30,"type":"quantitative","scale":{"domain":[-228,184],"nice":false,"zero":false},"axis":null},
   "text":{"field":"label"}}}
]},
{"layer":[
 {"data":{"values":[{"b":0}]},"mark":{"type":"rule","color":"#000000","strokeWidth":1.5},
  "encoding":{
   "y":{"field":"b","type":"quantitative","scale":{"domain":[-166,246],"nice":false,"zero":false},"axis":null}}},
 {"data":{"name":"dlg"},"mark":{"type":"rect","color":"#000000"},
  "encoding":{
   "x":{"field":"t","type":"quantitative","scale":{"domain":[0,626.8],"nice":false,"zero":false}},
   "x2":{"field":"t2"},
   "y":{"field":"lo","type":"quantitative","scale":{"domain":[-166,246],"nice":false,"zero":false},"axis":null},
   "y2":{"field":"hi"}}},
 {"data":{"values":[{"label":"DIALOG"}]},"mark":{"type":"text","align":"left","baseline":"alphabetic","color":"#000000"},
  "encoding":{
   "x":{"datum":3.9,"type":"quantitative","scale":{"domain":[0,626.8],"nice":false,"zero":false}},
   "y":{"datum":11,"type":"quantitative","scale":{"domain":[-166,246],"nice":false,"zero":false},"axis":null},
   "text":{"field":"label"}}}
]},
{"layer":[
 {"data":{"name":"hg"},"mark":{"type":"line","interpolate":"step-after","color":"#d40000","strokeWidth":1},
  "encoding":{
   "x":{"field":"t","type":"quantitative","scale":{"domain":[0,626.8],"nice":false,"zero":false}},
   "y":{"field":"s","type":"quantitative","scale":{"domain":[0,1,2,3,4],"range":[287,311.5,334.3,352.3,379.7],"nice":false,"zero":false},"axis":null}}},
 {"data":{"name":"hgb"},"transform":[{"filter":"datum.s==1"}],
  "mark":{"type":"rule","color":"#ff0000","strokeWidth":15.5},
  "encoding":{
   "x":{"field":"t","type":"quantitative","scale":{"domain":[0,626.8],"nice":false,"zero":false}},
   "x2":{"field":"t2"},
   "y":{"field":"s","type":"quantitative","scale":{"domain":[0,1,2,3,4],"range":[287,311.5,334.3,352.3,379.7],"nice":false,"zero":false},"axis":null}}},
 {"data":{"name":"hgb"},"transform":[{"filter":"datum.s==2"}],
  "mark":{"type":"rule","color":"#ff0000","strokeWidth":6.5},
  "encoding":{
   "x":{"field":"t","type":"quantitative","scale":{"domain":[0,626.8],"nice":false,"zero":false}},
   "x2":{"field":"t2"},
   "y":{"field":"s","type":"quantitative","scale":{"domain":[0,1,2,3,4],"range":[287,311.5,334.3,352.3,379.7],"nice":false,"zero":false},"axis":null}}},
 {"data":{"name":"hgb"},"transform":[{"filter":"datum.s==4"}],
  "mark":{"type":"rule","color":"#ff0000","strokeWidth":4},
  "encoding":{
   "x":{"field":"t","type":"quantitative","scale":{"domain":[0,626.8],"nice":false,"zero":false}},
   "x2":{"field":"t2"},
   "y":{"field":"s","type":"quantitative","scale":{"domain":[0,1,2,3,4],"range":[287,311.5,334.3,352.3,379.7],"nice":false,"zero":false},"axis":null}}},
 {"data":{"values":[{"label":"HG"}]},"mark":{"type":"text","align":"left","baseline":"alphabetic","color":"#dd0000"},
  "encoding":{
   "x":{"datum":3.9,"type":"quantitative","scale":{"domain":[0,626.8],"nice":false,"zero":false}},
   "y":{"datum":1.2,"type":"quantitative","scale":{"domain":[0,1,2,3,4],"range":[287,311.5,334.3,352.3,379.7],"nice":false,"zero":false},"axis":null},
   "text":{"field":"label"}}},
 {"data":{"values":[{"label":"22:32:13 (0:00:00)"}]},"mark":{"type":"text","align":"left","baseline":"alphabetic","color":"#000000","fontSize":11.5},
  "encoding":{
   "x":{"datum":5.4,"type":"quantitative","scale":{"domain":[0,626.8],"nice":false,"zero":false}},
   "y":{"datum":5,"type":"quantitative","scale":{"domain":[0,1,2,3,4],"range":[287,311.5,334.3,352.3,379.7],"nice":false,"zero":false},"axis":null},
   "text":{"field":"label"}}},
 {"data":{"values":[{"label":"8:59:00"}]},"mark":{"type":"text","align":"right","baseline":"alphabetic","color":"#000000","fontSize":11.5},
  "encoding":{
   "x":{"datum":614.4,"type":"quantitative","scale":{"domain":[0,626.8],"nice":false,"zero":false}},
   "y":{"datum":5,"type":"quantitative","scale":{"domain":[0,1,2,3,4],"range":[287,311.5,334.3,352.3,379.7],"nice":false,"zero":false},"axis":null},
   "text":{"field":"label"}}}
]}
],
"resolve":{"scale":{"y":"independent"}}
}
